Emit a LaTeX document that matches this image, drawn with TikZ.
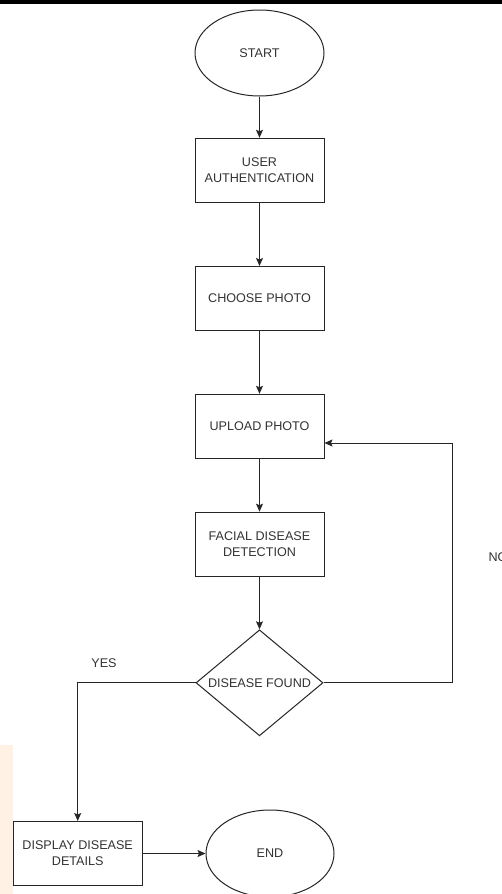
\documentclass[tikz,border=0pt]{standalone}
\usepackage{fontspec}
\setmainfont{Liberation Sans}
\usetikzlibrary{shapes.geometric,arrows.meta,calc}
\begin{document}
\begin{tikzpicture}[x=1pt,y=-1pt,
  every node/.style={font=\fontsize{12.6}{16}\selectfont, text=black!80},
  procbox/.style={draw=black!85, line width=1pt, rectangle, minimum width=129pt, minimum height=64pt, inner sep=0pt, align=center},
  termin/.style={draw=black!85, line width=1pt, ellipse, minimum width=129pt, minimum height=86pt, inner sep=0pt},
  decide/.style={draw=black!85, line width=1pt, diamond, aspect=1.2, minimum width=127pt, minimum height=106pt, inner sep=0pt},
  flow/.style={draw=black!85, line width=1pt, -{Stealth[length=8pt,width=7pt,inset=1.5pt]}},
  lbl/.style={font=\fontsize{12.6}{14}\selectfont}]
\useasboundingbox (0,0) rectangle (502,894);
\fill[white] (0,0) rectangle (502,894);
\fill[black] (0,0) rectangle (502,4);
\fill[orange!10] (0,745) rectangle (13,894);

\node[termin] (start) at (259.5,53) {START};
\node[procbox] (auth) at (259.5,170.3) {USER\\AUTHENTICATION};
\node[procbox] (choose) at (259.5,298.5) {CHOOSE PHOTO};
\node[procbox] (upload) at (259.5,426.3) {UPLOAD PHOTO};
\node[procbox] (facial) at (259.5,544.2) {FACIAL DISEASE\\DETECTION};
\node[decide] (dia) at (259.5,682.8) {DISEASE FOUND};
\node[procbox] (disp) at (77.7,853.5) {DISPLAY DISEASE\\DETAILS};
\node[termin, minimum width=128pt, minimum height=87pt] (end) at (270,853.5) {END};

\node[lbl] (yes) at (104,663) {YES};
\node[lbl, anchor=west] (no) at (485,557) {NO};

\coordinate (nr) at (452.3,443);

\draw[flow] (start) -- (auth);
\draw[flow] (auth) -- (choose);
\draw[flow] (choose) -- (upload);
\draw[flow] (upload) -- (facial);
\draw[flow] (facial) -- (dia);
\draw[flow] (dia.west) -| (disp.north);
\draw[flow] (dia.east) -| (nr) -- (upload.east |- nr);
\draw[flow] (disp) -- (end);
\end{tikzpicture}
\end{document}
